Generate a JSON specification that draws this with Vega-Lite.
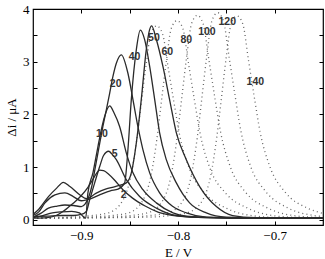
{
  "$schema": "https://vega.github.io/schema/vega-lite/v6.json",
  "width": 290,
  "height": 216,
  "padding": {"left": 5, "top": 3, "right": 2, "bottom": 0},
  "background": "white",
  "config": {
    "view": {"stroke": "#000", "strokeWidth": 1.2},
    "axis": {
      "domain": false, "grid": false, "ticks": true, "tickColor": "#000", "tickSize": -4, "tickWidth": 1,
      "labelFont": "Liberation Serif", "labelFontSize": 13, "labelColor": "#000", "labelPadding": 8,
      "titleFont": "Liberation Serif", "titleFontSize": 13, "titleFontWeight": "normal", "titleColor": "#000"
    }
  },
  "datasets": {
    "curves": [
      {"c":2,"E":-0.95,"i":0.03},{"c":2,"E":-0.935,"i":0.04},{"c":2,"E":-0.925,"i":0.09},{"c":2,"E":-0.918,"i":0.17},{"c":2,"E":-0.912,"i":0.26},{"c":2,"E":-0.906,"i":0.35},{"c":2,"E":-0.9,"i":0.46},{"c":2,"E":-0.893,"i":0.62},{"c":2,"E":-0.8876,"i":0.78},{"c":2,"E":-0.884,"i":0.89},{"c":2,"E":-0.881,"i":0.94},{"c":2,"E":-0.877,"i":0.93},{"c":2,"E":-0.872,"i":0.87},{"c":2,"E":-0.865,"i":0.74},{"c":2,"E":-0.857,"i":0.57},{"c":2,"E":-0.847,"i":0.41},{"c":2,"E":-0.834,"i":0.26},{"c":2,"E":-0.82,"i":0.14},{"c":2,"E":-0.8,"i":0.07},{"c":2,"E":-0.77,"i":0.04},{"c":2,"E":-0.72,"i":0.03},{"c":2,"E":-0.65,"i":0.03},
      {"c":5,"E":-0.95,"i":0.06},{"c":5,"E":-0.935,"i":0.07},{"c":5,"E":-0.92,"i":0.08},{"c":5,"E":-0.908,"i":0.08},{"c":5,"E":-0.9,"i":0.1},{"c":5,"E":-0.8948,"i":0.16},{"c":5,"E":-0.8914,"i":0.38},{"c":5,"E":-0.8862,"i":0.7},{"c":5,"E":-0.881,"i":1.01},{"c":5,"E":-0.877,"i":1.22},{"c":5,"E":-0.8718,"i":1.3},{"c":5,"E":-0.868,"i":1.24},{"c":5,"E":-0.8638,"i":1.14},{"c":5,"E":-0.8535,"i":0.76},{"c":5,"E":-0.8397,"i":0.44},{"c":5,"E":-0.8224,"i":0.22},{"c":5,"E":-0.8017,"i":0.08},{"c":5,"E":-0.77,"i":0.04},{"c":5,"E":-0.72,"i":0.03},{"c":5,"E":-0.65,"i":0.03},
      {"c":10,"E":-0.95,"i":0.04},{"c":10,"E":-0.94,"i":0.08},{"c":10,"E":-0.93,"i":0.13},{"c":10,"E":-0.92,"i":0.15},{"c":10,"E":-0.91,"i":0.16},{"c":10,"E":-0.902,"i":0.13},{"c":10,"E":-0.8975,"i":0.05},{"c":10,"E":-0.8955,"i":0.03},{"c":10,"E":-0.8932,"i":0.51},{"c":10,"E":-0.888,"i":0.89},{"c":10,"E":-0.8828,"i":1.39},{"c":10,"E":-0.8793,"i":1.71},{"c":10,"E":-0.8759,"i":1.96},{"c":10,"E":-0.8707,"i":2.16},{"c":10,"E":-0.866,"i":2.02},{"c":10,"E":-0.8604,"i":1.77},{"c":10,"E":-0.8535,"i":1.27},{"c":10,"E":-0.8466,"i":0.89},{"c":10,"E":-0.8363,"i":0.57},{"c":10,"E":-0.8224,"i":0.32},{"c":10,"E":-0.8052,"i":0.13},{"c":10,"E":-0.7914,"i":0.07},{"c":10,"E":-0.76,"i":0.04},{"c":10,"E":-0.7,"i":0.03},{"c":10,"E":-0.65,"i":0.03},
      {"c":20,"E":-0.95,"i":0.05},{"c":20,"E":-0.942,"i":0.12},{"c":20,"E":-0.934,"i":0.22},{"c":20,"E":-0.925,"i":0.26},{"c":20,"E":-0.917,"i":0.28},{"c":20,"E":-0.908,"i":0.27},{"c":20,"E":-0.9,"i":0.25},{"c":20,"E":-0.896,"i":0.3},{"c":20,"E":-0.892,"i":0.45},{"c":20,"E":-0.889,"i":0.65},{"c":20,"E":-0.886,"i":0.95},{"c":20,"E":-0.882,"i":1.35},{"c":20,"E":-0.8777,"i":1.77},{"c":20,"E":-0.8741,"i":2.09},{"c":20,"E":-0.8707,"i":2.4},{"c":20,"E":-0.8673,"i":2.72},{"c":20,"E":-0.8638,"i":2.97},{"c":20,"E":-0.8586,"i":3.13},{"c":20,"E":-0.8518,"i":2.78},{"c":20,"E":-0.8466,"i":2.28},{"c":20,"E":-0.8415,"i":1.77},{"c":20,"E":-0.8363,"i":1.33},{"c":20,"E":-0.8293,"i":0.89},{"c":20,"E":-0.819,"i":0.51},{"c":20,"E":-0.8052,"i":0.25},{"c":20,"E":-0.7914,"i":0.13},{"c":20,"E":-0.7707,"i":0.05},{"c":20,"E":-0.72,"i":0.03},{"c":20,"E":-0.65,"i":0.03},
      {"c":40,"E":-0.95,"i":0.08},{"c":40,"E":-0.944,"i":0.15},{"c":40,"E":-0.9376,"i":0.32},{"c":40,"E":-0.9273,"i":0.47},{"c":40,"E":-0.917,"i":0.51},{"c":40,"E":-0.9083,"i":0.44},{"c":40,"E":-0.9,"i":0.36},{"c":40,"E":-0.89,"i":0.4},{"c":40,"E":-0.88,"i":0.48},{"c":40,"E":-0.87,"i":0.55},{"c":40,"E":-0.862,"i":0.58},{"c":40,"E":-0.8552,"i":0.7},{"c":40,"E":-0.8518,"i":1.33},{"c":40,"E":-0.8483,"i":2.28},{"c":40,"E":-0.8431,"i":3.23},{"c":40,"E":-0.839,"i":3.6},{"c":40,"E":-0.8345,"i":3.42},{"c":40,"E":-0.8293,"i":2.91},{"c":40,"E":-0.8241,"i":2.28},{"c":40,"E":-0.819,"i":1.65},{"c":40,"E":-0.8121,"i":1.14},{"c":40,"E":-0.8017,"i":0.7},{"c":40,"E":-0.788,"i":0.32},{"c":40,"E":-0.7707,"i":0.13},{"c":40,"E":-0.75,"i":0.05},{"c":40,"E":-0.7,"i":0.03},{"c":40,"E":-0.65,"i":0.03},
      {"c":50,"E":-0.95,"i":0.1},{"c":50,"E":-0.944,"i":0.2},{"c":50,"E":-0.934,"i":0.44},{"c":50,"E":-0.9255,"i":0.6},{"c":50,"E":-0.9186,"i":0.71},{"c":50,"E":-0.9118,"i":0.63},{"c":50,"E":-0.9014,"i":0.47},{"c":50,"E":-0.8945,"i":0.4},{"c":50,"E":-0.885,"i":0.5},{"c":50,"E":-0.875,"i":0.58},{"c":50,"E":-0.865,"i":0.63},{"c":50,"E":-0.8535,"i":0.7},{"c":50,"E":-0.8483,"i":0.89},{"c":50,"E":-0.8431,"i":1.46},{"c":50,"E":-0.838,"i":2.28},{"c":50,"E":-0.8328,"i":3.23},{"c":50,"E":-0.8295,"i":3.6},{"c":50,"E":-0.8273,"i":3.68},{"c":50,"E":-0.8224,"i":3.42},{"c":50,"E":-0.8156,"i":2.91},{"c":50,"E":-0.8087,"i":2.28},{"c":50,"E":-0.8017,"i":1.65},{"c":50,"E":-0.7914,"i":1.14},{"c":50,"E":-0.7776,"i":0.63},{"c":50,"E":-0.7603,"i":0.25},{"c":50,"E":-0.7435,"i":0.08},{"c":50,"E":-0.72,"i":0.04},{"c":50,"E":-0.65,"i":0.03},
      {"c":60,"E":-0.95,"i":0.03},{"c":60,"E":-0.922,"i":0.044},{"c":60,"E":-0.892,"i":0.074},{"c":60,"E":-0.872,"i":0.13},{"c":60,"E":-0.857,"i":0.37},{"c":60,"E":-0.849,"i":0.81},{"c":60,"E":-0.843,"i":1.47},{"c":60,"E":-0.838,"i":2.21},{"c":60,"E":-0.833,"i":2.94},{"c":60,"E":-0.828,"i":3.53},{"c":60,"E":-0.822,"i":3.68},{"c":60,"E":-0.816,"i":3.53},{"c":60,"E":-0.81,"i":2.87},{"c":60,"E":-0.804,"i":2.21},{"c":60,"E":-0.798,"i":1.58},{"c":60,"E":-0.788,"i":0.96},{"c":60,"E":-0.772,"i":0.5},{"c":60,"E":-0.749,"i":0.21},{"c":60,"E":-0.722,"i":0.074},{"c":60,"E":-0.692,"i":0.037},{"c":60,"E":-0.65,"i":0.03},
      {"c":80,"E":-0.95,"i":0.03},{"c":80,"E":-0.901,"i":0.045},{"c":80,"E":-0.871,"i":0.076},{"c":80,"E":-0.851,"i":0.13},{"c":80,"E":-0.836,"i":0.38},{"c":80,"E":-0.828,"i":0.83},{"c":80,"E":-0.822,"i":1.51},{"c":80,"E":-0.817,"i":2.27},{"c":80,"E":-0.812,"i":3.02},{"c":80,"E":-0.807,"i":3.63},{"c":80,"E":-0.801,"i":3.78},{"c":80,"E":-0.795,"i":3.63},{"c":80,"E":-0.789,"i":2.95},{"c":80,"E":-0.783,"i":2.27},{"c":80,"E":-0.777,"i":1.63},{"c":80,"E":-0.767,"i":0.98},{"c":80,"E":-0.751,"i":0.51},{"c":80,"E":-0.728,"i":0.22},{"c":80,"E":-0.701,"i":0.076},{"c":80,"E":-0.671,"i":0.038},{"c":80,"E":-0.65,"i":0.03},
      {"c":100,"E":-0.95,"i":0.03},{"c":100,"E":-0.88,"i":0.047},{"c":100,"E":-0.85,"i":0.078},{"c":100,"E":-0.83,"i":0.14},{"c":100,"E":-0.815,"i":0.39},{"c":100,"E":-0.807,"i":0.85},{"c":100,"E":-0.801,"i":1.55},{"c":100,"E":-0.796,"i":2.33},{"c":100,"E":-0.791,"i":3.1},{"c":100,"E":-0.786,"i":3.72},{"c":100,"E":-0.78,"i":3.88},{"c":100,"E":-0.774,"i":3.72},{"c":100,"E":-0.768,"i":3.03},{"c":100,"E":-0.762,"i":2.33},{"c":100,"E":-0.756,"i":1.67},{"c":100,"E":-0.746,"i":1.01},{"c":100,"E":-0.73,"i":0.52},{"c":100,"E":-0.707,"i":0.22},{"c":100,"E":-0.68,"i":0.078},{"c":100,"E":-0.65,"i":0.04},
      {"c":120,"E":-0.95,"i":0.03},{"c":120,"E":-0.859,"i":0.047},{"c":120,"E":-0.829,"i":0.079},{"c":120,"E":-0.809,"i":0.14},{"c":120,"E":-0.794,"i":0.39},{"c":120,"E":-0.786,"i":0.86},{"c":120,"E":-0.78,"i":1.57},{"c":120,"E":-0.775,"i":2.36},{"c":120,"E":-0.77,"i":3.14},{"c":120,"E":-0.765,"i":3.77},{"c":120,"E":-0.759,"i":3.93},{"c":120,"E":-0.753,"i":3.77},{"c":120,"E":-0.747,"i":3.07},{"c":120,"E":-0.741,"i":2.36},{"c":120,"E":-0.735,"i":1.69},{"c":120,"E":-0.725,"i":1.02},{"c":120,"E":-0.709,"i":0.53},{"c":120,"E":-0.686,"i":0.22},{"c":120,"E":-0.659,"i":0.079},{"c":120,"E":-0.65,"i":0.06},
      {"c":140,"E":-0.95,"i":0.03},{"c":140,"E":-0.839,"i":0.046},{"c":140,"E":-0.809,"i":0.077},{"c":140,"E":-0.789,"i":0.14},{"c":140,"E":-0.774,"i":0.39},{"c":140,"E":-0.766,"i":0.85},{"c":140,"E":-0.76,"i":1.55},{"c":140,"E":-0.755,"i":2.32},{"c":140,"E":-0.75,"i":3.1},{"c":140,"E":-0.745,"i":3.72},{"c":140,"E":-0.739,"i":3.87},{"c":140,"E":-0.733,"i":3.72},{"c":140,"E":-0.727,"i":3.02},{"c":140,"E":-0.721,"i":2.32},{"c":140,"E":-0.715,"i":1.66},{"c":140,"E":-0.705,"i":1.01},{"c":140,"E":-0.689,"i":0.52},{"c":140,"E":-0.666,"i":0.22},{"c":140,"E":-0.65,"i":0.12}
    ],
    "labels": [
      {"t":"2","E":-0.8562,"i":0.47},{"t":"5","E":-0.8656,"i":1.25},{"t":"10","E":-0.8787,"i":1.63},{"t":"20","E":-0.8645,"i":2.58},
      {"t":"40","E":-0.8449,"i":3.09},{"t":"50","E":-0.8249,"i":3.45},{"t":"60","E":-0.811,"i":3.19},{"t":"80","E":-0.7914,"i":3.42},
      {"t":"100","E":-0.7701,"i":3.56},{"t":"120","E":-0.749,"i":3.75},{"t":"140","E":-0.72,"i":2.62}
    ]
  },
  "layer": [
    {
      "data": {"name": "curves"},
      "transform": [{"filter": "datum.c >= 60"}],
      "mark": {"type": "line", "clip": true, "interpolate": "monotone", "color": "#666", "strokeWidth": 1.3, "strokeDash": [1, 3.2]},
      "encoding": {
        "x": {"field": "E", "type": "quantitative", "scale": {"domain": [-0.95, -0.65], "nice": false, "zero": false},
              "axis": {"orient": "bottom", "values": [-0.9, -0.85, -0.8, -0.75, -0.7], "format": ".1f",
                       "labelExpr": "abs(round(datum.value*20)) % 2 == 0 ? datum.label : ''", "title": "E / V", "titlePadding": 4}},
        "y": {"field": "i", "type": "quantitative", "scale": {"domain": [-0.1, 4], "nice": false, "zero": false},
              "axis": {"orient": "left", "values": [0, 0.5, 1, 1.5, 2, 2.5, 3, 3.5, 4],
                       "labelExpr": "datum.value % 1 == 0 ? format(datum.value, 'd') : ''", "title": "Δi  /  μA", "titlePadding": 4}},
        "detail": {"field": "c", "type": "nominal"}
      }
    },
    {
      "data": {"name": "curves"},
      "transform": [{"filter": "datum.c <= 50"}],
      "mark": {"type": "line", "clip": true, "interpolate": "monotone", "color": "#2a2a2a", "strokeWidth": 1.3},
      "encoding": {
        "x": {"field": "E", "type": "quantitative", "axis": null},
        "y": {"field": "i", "type": "quantitative", "axis": null},
        "detail": {"field": "c", "type": "nominal"}
      }
    },
    {
      "data": {"name": "labels"},
      "mark": {"type": "text", "font": "Liberation Sans", "fontWeight": "bold", "fontSize": 10.5, "color": "#333", "align": "center", "baseline": "middle"},
      "encoding": {
        "x": {"field": "E", "type": "quantitative", "axis": {"orient": "top", "values": [-0.9, -0.85, -0.8, -0.75, -0.7], "labels": false, "title": null}},
        "y": {"field": "i", "type": "quantitative", "axis": {"orient": "right", "values": [0, 0.5, 1, 1.5, 2, 2.5, 3, 3.5, 4], "labels": false, "title": null}},
        "text": {"field": "t"}
      }
    }
  ],
  "resolve": {"axis": {"x": "independent", "y": "independent"}}
}
